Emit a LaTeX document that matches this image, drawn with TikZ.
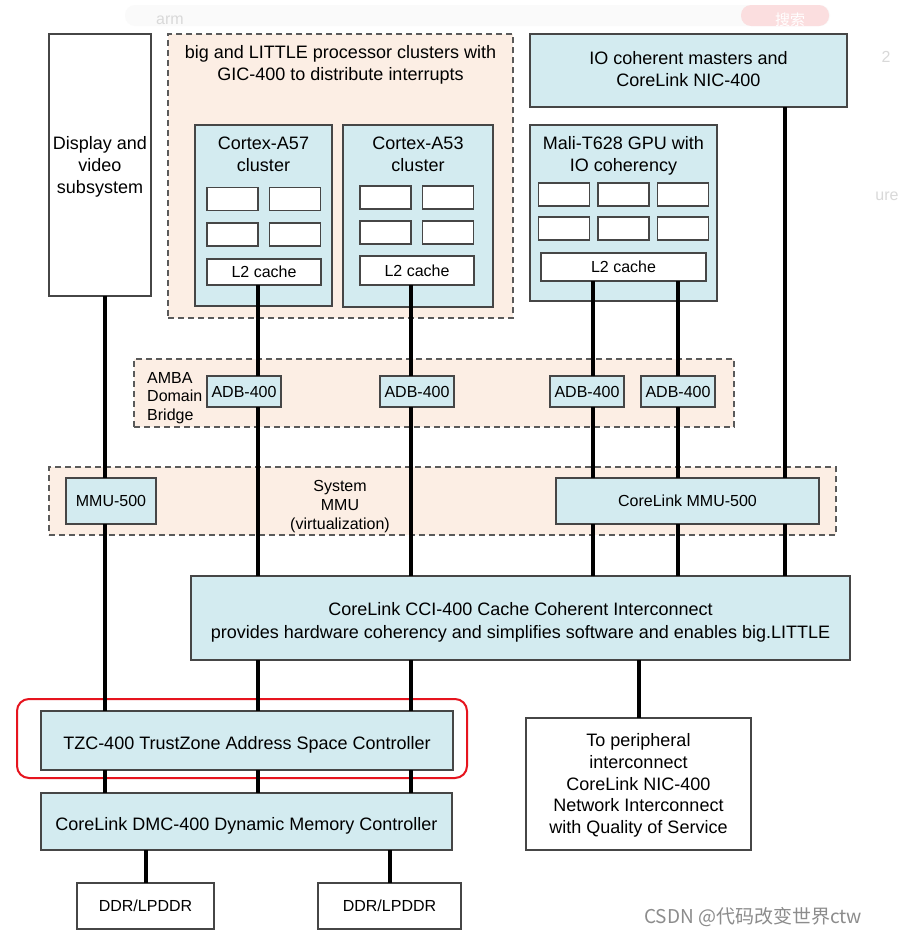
\documentclass[tikz,border=0pt]{standalone}
\usepackage{fontspec}
\setmainfont{Liberation Sans}
\newfontfamily\cjkfont{Noto Sans CJK SC}
\definecolor{boxblue}{RGB}{211,235,240}
\definecolor{peach}{RGB}{252,238,228}
\definecolor{boxline}{RGB}{70,70,70}
\definecolor{dashline}{RGB}{90,90,90}
\definecolor{redmark}{RGB}{230,20,30}
\newcommand\fbig{\fontsize{18}{21.8}\selectfont}
\newcommand\fsmall{\fontsize{16}{18.6}\selectfont}
\newcommand\vlink[3]{\draw[conn] (#2.south -| #1) -- (#3.north -| #1);}
\begin{document}
\begin{tikzpicture}[x=1pt,y=-1pt,
  box/.style={draw=boxline, line width=1.6pt, fill=boxblue, inner sep=0pt, outer sep=0pt, align=center, font=\fbig},
  wbox/.style={box, fill=white},
  sbox/.style={box, font=\fsmall},
  cell/.style={draw=boxline, line width=1.6pt, fill=white, inner sep=0pt, outer sep=0pt, minimum width=51pt, minimum height=23pt},
  region/.style={draw=dashline, line width=1.5pt, dash pattern=on 6pt off 4pt, fill=peach, inner sep=0pt, outer sep=0pt},
  lbl/.style={inner sep=0pt, align=center, font=\fbig},
  slbl/.style={inner sep=0pt, align=center, font=\fsmall},
  conn/.style={line width=3.2pt, black}]
\useasboundingbox (0,0) rectangle (912,945);
\fill[white] (0,0) rectangle (912,945);
% faint web-page artefacts
\fill[black!2, rounded corners=10pt] (125,5) rectangle (830,26);
\node[inner sep=0pt, text=black!15, font=\fsmall] (arm) at (170,20) {arm};
\fill[redmark!14, rounded corners=10pt] (741,5) rectangle (829,26);
\node[inner sep=0pt, text=white, font=\cjkfont\fontsize{15}{15}\selectfont] (srch) at (790,20) {搜索};
\node[inner sep=0pt, text=black!15, font=\fsmall] (frag1) at (886,57) {2};
\node[inner sep=0pt, text=black!15, font=\fsmall] (frag2) at (887,196) {ure};

% regions
\node[region, minimum width=345pt, minimum height=284pt] (regbl) at (340.5,176) {};
\node[lbl] (regblt) at (340.5,65) {big and LITTLE processor clusters with\\GIC-400 to distribute interrupts};
\node[region, minimum width=600pt, minimum height=68pt] (regamba) at (434,393) {};
\node[slbl, align=left, anchor=west] (ambat) at (147,398) {AMBA\\Domain\\Bridge};
\node[region, minimum width=787pt, minimum height=68pt] (regmmu) at (442.5,501) {};
\node[slbl] (mmut) at (340,506.5) {System\\MMU\\(virtualization)};

% display
\node[wbox, minimum width=102pt, minimum height=262pt] (disp) at (100,165) {};
\node[lbl] (dispt) at (100,167) {Display and\\video\\subsystem};

% Cortex-A57
\node[box, minimum width=137pt, minimum height=181pt] (a57) at (263.5,215.5) {};
\node[lbl] (a57t) at (263.5,154) {Cortex-A57\\cluster};
\node[cell] (a57c1) at (232.5,199) {};
\node[cell] (a57c2) at (295,199) {};
\node[cell] (a57c3) at (232.5,234.5) {};
\node[cell] (a57c4) at (295,234.5) {};
\node[sbox, fill=white, minimum width=114pt, minimum height=26pt] (a57l2) at (264,272) {L2 cache};

% Cortex-A53
\node[box, minimum width=150pt, minimum height=182pt] (a53) at (418,216) {};
\node[lbl] (a53t) at (418,154) {Cortex-A53\\cluster};
\node[cell] (a53c1) at (385.5,197.5) {};
\node[cell] (a53c2) at (448,197.5) {};
\node[cell] (a53c3) at (385.5,232.5) {};
\node[cell] (a53c4) at (448,232.5) {};
\node[sbox, fill=white, minimum width=114pt, minimum height=29pt] (a53l2) at (417,270.5) {L2 cache};

% IO coherent masters
\node[box, minimum width=317pt, minimum height=73pt] (io) at (688.5,70.5) {};
\node[lbl] (iot) at (688.5,69) {IO coherent masters and\\CoreLink NIC-400};

% Mali
\node[box, minimum width=187pt, minimum height=176pt] (mali) at (623.5,213) {};
\node[lbl] (malit) at (623.5,156) {Mali-T628 GPU with\\IO coherency};
\node[cell] (mc1) at (564,194.5) {};
\node[cell] (mc2) at (623.5,194.5) {};
\node[cell] (mc3) at (683,194.5) {};
\node[cell] (mc4) at (564,228.5) {};
\node[cell] (mc5) at (623.5,228.5) {};
\node[cell] (mc6) at (683,228.5) {};
\node[sbox, fill=white, minimum width=165pt, minimum height=28pt] (malil2) at (623.5,267) {L2 cache};

% ADB-400
\node[sbox, minimum width=74pt, minimum height=31pt] (adb1) at (244,391.5) {ADB-400};
\node[sbox, minimum width=74pt, minimum height=31pt] (adb2) at (417,391.5) {ADB-400};
\node[sbox, minimum width=74pt, minimum height=31pt] (adb3) at (587,391.5) {ADB-400};
\node[sbox, minimum width=74pt, minimum height=31pt] (adb4) at (678,391.5) {ADB-400};

% MMU
\node[sbox, minimum width=90pt, minimum height=46pt] (mmu1) at (111,501) {MMU-500};
\node[sbox, minimum width=263pt, minimum height=46pt] (mmu2) at (687.5,501) {CoreLink MMU-500};

% CCI
\node[box, minimum width=659pt, minimum height=84pt] (cci) at (520.5,618) {};
\node[lbl, font=\fontsize{18}{23}\selectfont] (ccit) at (520.5,622) {CoreLink CCI-400 Cache Coherent Interconnect\\provides hardware coherency and simplifies software and enables big.LITTLE};

% TZC, DMC
\node[box, minimum width=412pt, minimum height=59pt] (tzc) at (247,740.5) {};
\node[lbl] (tzct) at (247,745) {TZC-400 TrustZone Address Space Controller};
\draw[redmark, line width=2pt, rounded corners=12pt] (17,699) rectangle (467,778);
\node[box, minimum width=411pt, minimum height=57pt] (dmc) at (246.5,821.5) {};
\node[lbl] (dmct) at (246.5,825.5) {CoreLink DMC-400 Dynamic Memory Controller};

% peripheral
\node[wbox, minimum width=225pt, minimum height=132pt] (per) at (638.5,784) {};
\node[lbl] (pert) at (638.5,785.5) {To peripheral\\interconnect\\CoreLink NIC-400\\Network Interconnect\\with Quality of Service};

% DDR
\node[wbox, font=\fsmall, minimum width=137pt, minimum height=46pt] (ddr1) at (145.5,906) {DDR/LPDDR};
\node[wbox, font=\fsmall, minimum width=143pt, minimum height=46pt] (ddr2) at (389.5,906) {DDR/LPDDR};

% connector x positions
\coordinate (xa) at (105,0);
\coordinate (xb) at (258,0);
\coordinate (xc) at (411,0);
\coordinate (xd) at (593,0);
\coordinate (xe) at (678,0);
\coordinate (xf) at (785,0);
\coordinate (xg) at (639,0);
\coordinate (xh) at (146,0);
\coordinate (xi) at (390,0);

\vlink{xa}{disp}{mmu1}
\vlink{xa}{mmu1}{tzc}
\vlink{xa}{tzc}{dmc}
\vlink{xb}{a57l2}{adb1}
\vlink{xb}{adb1}{cci}
\vlink{xb}{cci}{tzc}
\vlink{xb}{tzc}{dmc}
\vlink{xc}{a53l2}{adb2}
\vlink{xc}{adb2}{cci}
\vlink{xc}{cci}{tzc}
\vlink{xc}{tzc}{dmc}
\vlink{xd}{malil2}{adb3}
\vlink{xd}{adb3}{mmu2}
\vlink{xd}{mmu2}{cci}
\vlink{xe}{malil2}{adb4}
\vlink{xe}{adb4}{mmu2}
\vlink{xe}{mmu2}{cci}
\vlink{xf}{io}{mmu2}
\vlink{xf}{mmu2}{cci}
\vlink{xg}{cci}{per}
\vlink{xh}{dmc}{ddr1}
\vlink{xi}{dmc}{ddr2}

% watermark
\node[inner sep=0pt, text=black!45, font=\cjkfont\fontsize{19}{19}\selectfont] (wm) at (753,917) {CSDN @代码改变世界ctw};
\end{tikzpicture}
\end{document}
